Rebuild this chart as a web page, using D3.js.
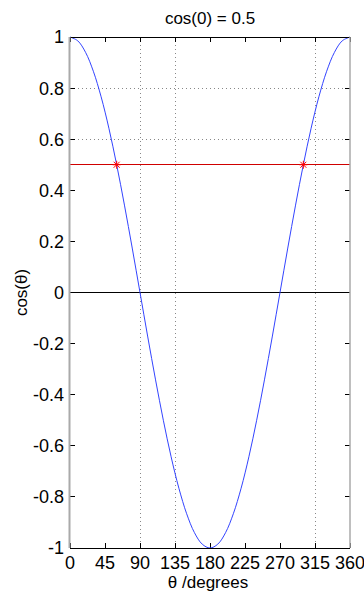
<!DOCTYPE html>
<html>
<head>
    <meta charset="utf-8" />
    <title>cos theta</title>
    <style>
        body { margin: 0; background: #fff; }
        text { font-family: 'Liberation Sans', Arial, sans-serif; fill: #000; }
        .tick-label { font-size: 18px; }
        .grid { stroke: #888; stroke-width: 1px; stroke-dasharray: 1,3; shape-rendering: crispEdges; }
        .tick { stroke: #000; stroke-width: 1px; shape-rendering: crispEdges; }
    </style>
    <script src="https://cdn.jsdelivr.net/npm/d3@7"></script>
</head>
<body>
    <svg width="364" height="591"></svg>
    <script>
        // theta (degrees) and cos values
        var thetas = [0, 10, 20, 30, 40, 50, 60, 70, 80, 90, 100, 110, 120, 130, 140, 150, 160, 170, 180,
                      190, 200, 210, 220, 230, 240, 250, 260, 270, 280, 290, 300, 310, 320, 330, 340, 350, 360];
        var cosValues = [1, 0.985, 0.94, 0.866, 0.766, 0.643, 0.5, 0.342, 0.174, 0, -0.174, -0.342, -0.5, -0.643, -0.766, -0.866, -0.94, -0.985, -1,
                         -0.985, -0.94, -0.866, -0.766, -0.643, -0.5, -0.342, -0.174, 0, 0.174, 0.342, 0.5, 0.643, 0.766, 0.866, 0.94, 0.985, 1];
        var xTicks = [0, 45, 90, 135, 180, 225, 270, 315, 360];
        var yTicks = [-1, -0.8, -0.6, -0.4, -0.2, 0, 0.2, 0.4, 0.6, 0.8, 1];
        var xGrid = [90, 135, 315];
        var yGrid = [0.6, 0.8];
        var level = 0.5;
        var hits = [60, 300];

        var svg = d3.select('svg'),
            margin = { top: 37, right: 14, bottom: 43, left: 70 },
            width = +svg.attr('width') - margin.left - margin.right,
            height = +svg.attr('height') - margin.top - margin.bottom;

        var x = d3.scaleLinear().domain([0, 360]).range([0, width]);
        var y = d3.scaleLinear().domain([-1, 1]).range([height, 0]);

        var g = svg.append('g')
            .attr('transform', 'translate(' + margin.left + ',' + margin.top + ')');

        // grid
        g.selectAll('.vgrid').data(xGrid).enter().append('line')
            .attr('class', 'grid')
            .attr('x1', x).attr('x2', x)
            .attr('y1', 0).attr('y2', height);
        g.selectAll('.hgrid').data(yGrid).enter().append('line')
            .attr('class', 'grid')
            .attr('x1', 0).attr('x2', width)
            .attr('y1', y).attr('y2', y);

        // ticks inside the box
        g.selectAll('.xt').data(xTicks).enter().append('path')
            .attr('class', 'tick')
            .attr('d', function(d) { return 'M' + x(d) + ',' + height + 'v-5M' + x(d) + ',0v5'; });
        g.selectAll('.yt').data(yTicks).enter().append('path')
            .attr('class', 'tick')
            .attr('d', function(d) { return 'M0,' + y(d) + 'h5M' + width + ',' + y(d) + 'h-5'; });

        // reference lines
        g.append('line')
            .attr('x1', 0).attr('x2', width)
            .attr('y1', y(0)).attr('y2', y(0))
            .attr('stroke', '#000').attr('stroke-width', 1).attr('shape-rendering', 'crispEdges');
        g.append('line')
            .attr('x1', 0).attr('x2', width)
            .attr('y1', y(level)).attr('y2', y(level))
            .attr('stroke', '#d00000').attr('stroke-width', 1).attr('shape-rendering', 'crispEdges');

        // curve
        var line = d3.line()
            .x(function(d, i) { return x(thetas[i]); })
            .y(function(d) { return y(d); })
            .curve(d3.curveCatmullRom);
        g.append('path')
            .datum(cosValues)
            .attr('fill', 'none')
            .attr('stroke', '#3344ff')
            .attr('stroke-width', 1)
            .attr('d', line);

        // asterisk markers
        g.selectAll('.star').data(hits).enter().append('path')
            .attr('stroke', '#ff0000')
            .attr('stroke-width', 1)
            .attr('d', function(d) {
                var cx = x(d), cy = y(level), r = 4;
                return 'M' + (cx - r) + ',' + cy + 'h' + 2 * r +
                       'M' + cx + ',' + (cy - r) + 'v' + 2 * r +
                       'M' + (cx - 3) + ',' + (cy - 3) + 'l6,6' +
                       'M' + (cx - 3) + ',' + (cy + 3) + 'l6,-6';
            });

        // box
        g.append('line').attr('x1', 0).attr('x2', width).attr('y1', 0).attr('y2', 0)
            .attr('stroke', '#000').attr('shape-rendering', 'crispEdges');
        g.append('line').attr('x1', 0).attr('x2', width).attr('y1', height).attr('y2', height)
            .attr('stroke', '#000').attr('shape-rendering', 'crispEdges');
        g.append('line').attr('x1', -0.5).attr('x2', -0.5).attr('y1', 0).attr('y2', height)
            .attr('stroke', '#aaa').attr('stroke-width', 2);
        g.append('line').attr('x1', width).attr('x2', width).attr('y1', 0).attr('y2', height)
            .attr('stroke', '#aaa').attr('stroke-width', 1.5);

        // tick labels
        g.selectAll('.xl').data(xTicks).enter().append('text')
            .attr('class', 'tick-label')
            .attr('x', x)
            .attr('y', height + 21)
            .attr('text-anchor', 'middle')
            .text(function(d) { return d; });
        g.selectAll('.yl').data(yTicks).enter().append('text')
            .attr('class', 'tick-label')
            .attr('x', -6)
            .attr('y', y)
            .attr('dy', '0.36em')
            .attr('text-anchor', 'end')
            .text(function(d) { return d; });

        // labels
        svg.append('text')
            .attr('x', margin.left + width / 2)
            .attr('y', 24)
            .attr('text-anchor', 'middle')
            .style('font-size', '17px')
            .text('cos(0) = 0.5');
        svg.append('text')
            .attr('x', margin.left + width / 2 - 2)
            .attr('y', 588)
            .attr('text-anchor', 'middle')
            .style('font-size', '17px')
            .text('θ /degrees');
        svg.append('text')
            .attr('transform', 'translate(27,' + (margin.top + height / 2) + ') rotate(-90)')
            .attr('text-anchor', 'middle')
            .style('font-size', '17px')
            .text('cos(θ)');
    </script>
</body>
</html>
